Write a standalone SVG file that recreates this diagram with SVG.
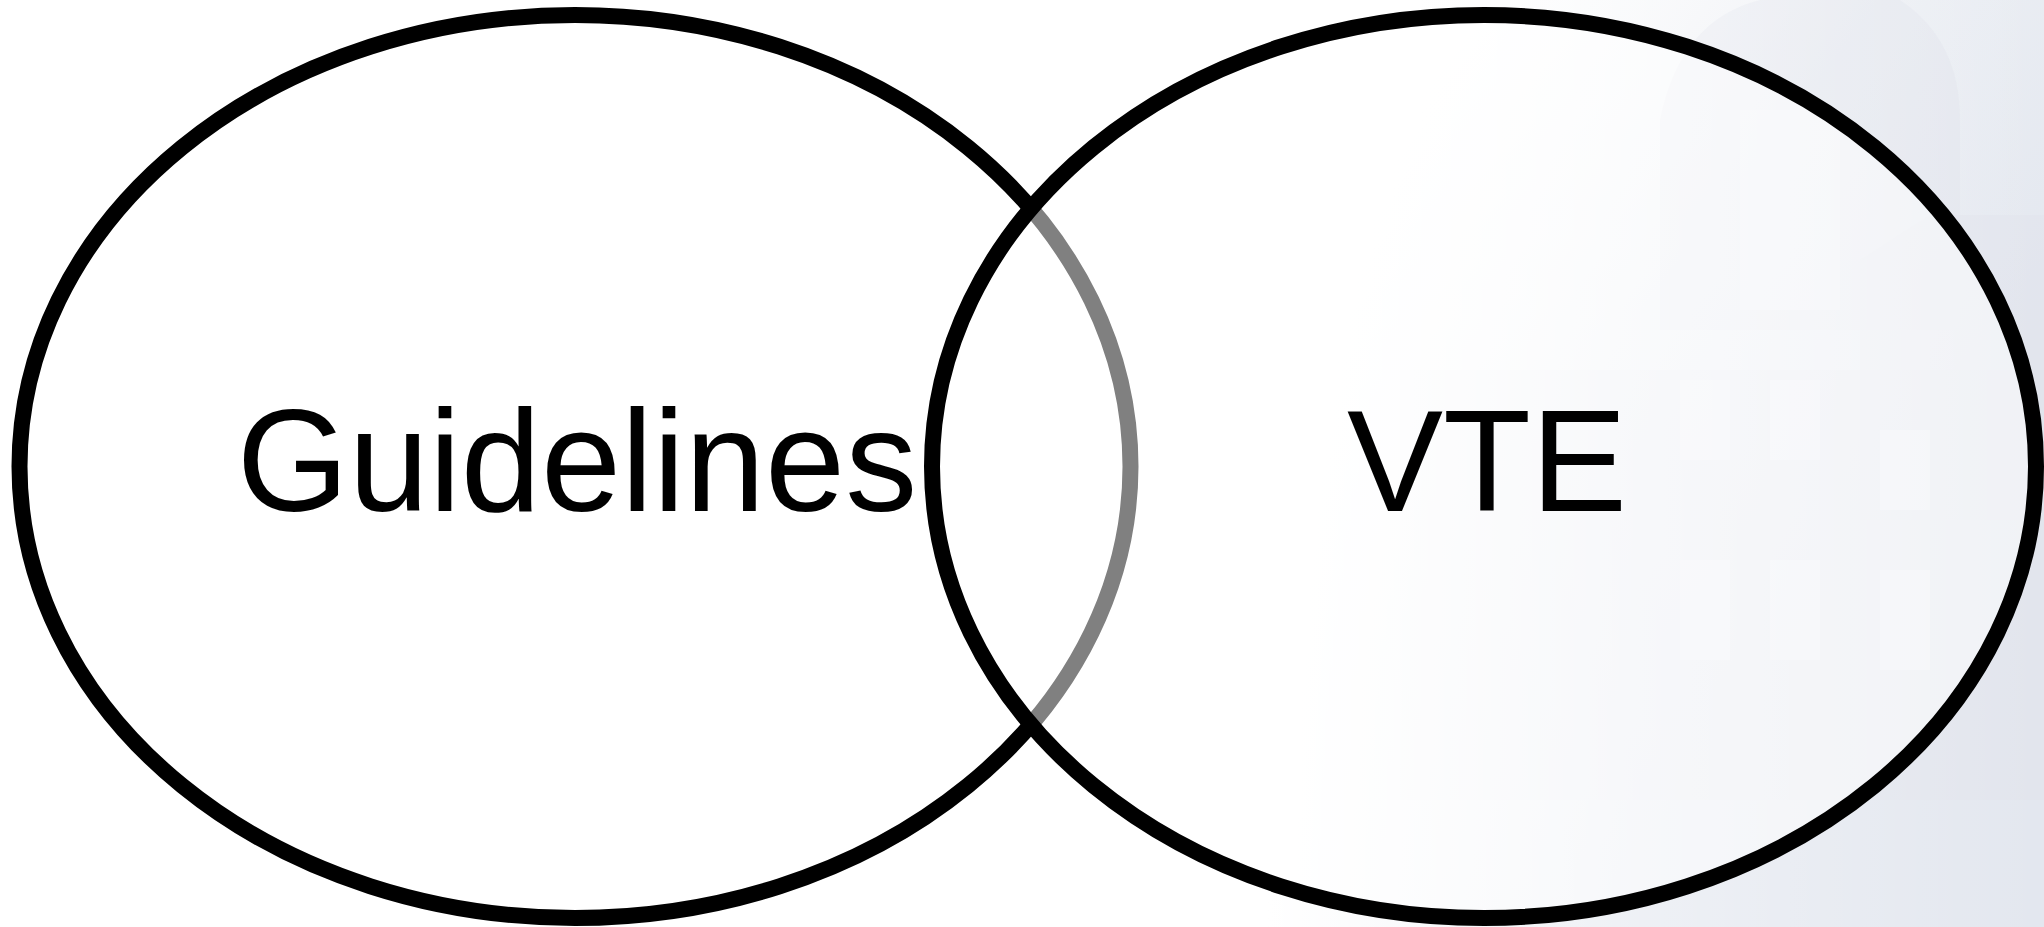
<svg xmlns="http://www.w3.org/2000/svg" width="2044" height="927" viewBox="0 0 2044 927">
  <defs>
    <linearGradient id="bgGrad" x1="0" y1="0" x2="1" y2="0.35">
      <stop offset="0" stop-color="#ffffff"/>
      <stop offset="0.62" stop-color="#ffffff"/>
      <stop offset="0.82" stop-color="#eceff4"/>
      <stop offset="1" stop-color="#e3e7ef"/>
    </linearGradient>
    <linearGradient id="fadeGrad" x1="0" y1="0" x2="1" y2="0">
      <stop offset="0" stop-color="#ffffff" stop-opacity="1"/>
      <stop offset="0.62" stop-color="#ffffff" stop-opacity="1"/>
      <stop offset="0.8" stop-color="#ffffff" stop-opacity="0.4"/>
      <stop offset="1" stop-color="#ffffff" stop-opacity="0"/>
    </linearGradient>
  </defs>
  <style>
    .ring { stroke: #000000; stroke-width: 16; }
    .label { font-family: "Liberation Sans", Arial, sans-serif; font-size: 144px; fill: #000000; text-anchor: middle; }
    .bld { fill: #dfe3ec; opacity: 0.45; }
    .bldL { fill: #f2f4f8; opacity: 0.5; }
  </style>

  <!-- background with faint building -->
  <g id="background">
    <rect x="0" y="0" width="2044" height="927" fill="url(#bgGrad)"/>
    <path class="bld" d="M1660 330 L1660 120 Q1680 20 1760 0 L1900 0 Q1960 40 1960 120 L1960 330 Z"/>
    <path class="bld" d="M1860 260 L1930 215 L2044 215 L2044 520 L1860 520 Z"/>
    <rect class="bld" x="1400" y="370" width="644" height="430"/>
    <rect class="bldL" x="1740" y="110" width="100" height="200"/>
    <rect class="bldL" x="1680" y="380" width="50" height="80"/>
    <rect class="bldL" x="1770" y="380" width="50" height="80"/>
    <rect class="bldL" x="1880" y="430" width="50" height="80"/>
    <rect class="bldL" x="1680" y="560" width="50" height="100"/>
    <rect class="bldL" x="1770" y="560" width="50" height="100"/>
    <rect class="bldL" x="1880" y="570" width="50" height="100"/>
    <rect x="0" y="0" width="2044" height="927" fill="url(#fadeGrad)"/>
  </g>

  <g id="node-guidelines">
    <ellipse class="ring" cx="575" cy="466.5" rx="555.5" ry="451.5" fill="#ffffff"/>
    <text class="label" x="577" y="511">Guidelines</text>
  </g>

  <g id="node-vte">
    <ellipse class="ring" cx="1484" cy="466.5" rx="552" ry="451.5" fill="#ffffff" fill-opacity="0.5"/>
    <text class="label" x="1487" y="511">VTE</text>
  </g>

  <g id="connectors"></g>
</svg>
